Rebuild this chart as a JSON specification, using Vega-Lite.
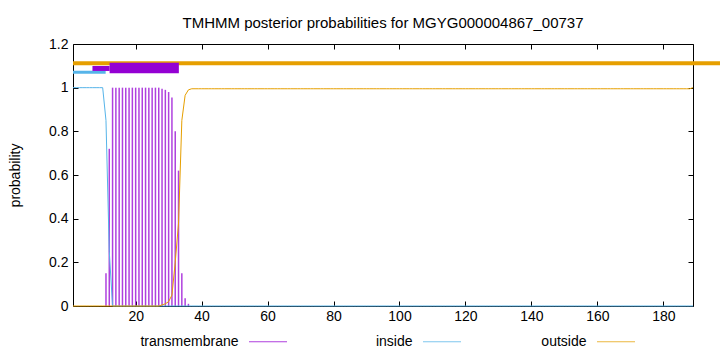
{
  "$schema": "https://vega.github.io/schema/vega-lite/v6.json",
  "width": 620,
  "height": 262,
  "autosize": "none",
  "padding": {"left": 73, "top": 44, "right": 27, "bottom": 46},
  "background": "white",
  "config": {
    "font": "Liberation Sans",
    "view": {"stroke": "black", "strokeWidth": 1},
    "axis": {
      "labelFont": "Liberation Sans",
      "labelFontSize": 14,
      "labelColor": "black",
      "tickColor": "black",
      "tickSize": -5,
      "domain": false,
      "grid": false,
      "titleFont": "Liberation Sans",
      "titleFontSize": 14,
      "titleFontWeight": "normal",
      "titleColor": "black"
    },
    "legend": {
      "orient": "none", "direction": "horizontal", "legendX": 175.5, "legendY": 278, "title": null,
      "symbolType": "stroke", "symbolSize": 1444, "symbolStrokeWidth": 1,
      "labelAlign": "right", "labelOffset": -49, "labelFontSize": 14, "labelFont": "Liberation Sans",
      "labelColor": "black", "columnPadding": 77, "gridAlign": "all", "labelLimit": 0
    }
  },
  "title": {
    "text": "TMHMM posterior probabilities for MGYG000004867_00737",
    "font": "Liberation Sans",
    "fontSize": 15,
    "fontWeight": "normal",
    "color": "black",
    "anchor": "middle",
    "baseline": "alphabetic",
    "offset": -6
  },
  "datasets": {
    "bars": [
      {"name": "outside", "start": 1, "end": 200, "level": 1.112},
      {"name": "inside", "start": 1, "end": 10.9, "level": 1.071},
      {"name": "tmthin", "start": 6.9, "end": 12.1, "level": 1.088},
      {"name": "tm", "start": 12.1, "end": 33.1, "level": 1.09}
    ],
    "curve": [
      {"x":1,"inside":1,"outside":0,"tm":0},{"x":2,"inside":1,"outside":0,"tm":0},{"x":3,"inside":1,"outside":0,"tm":0},{"x":4,"inside":1,"outside":0,"tm":0},{"x":5,"inside":1,"outside":0,"tm":0},
      {"x":6,"inside":1,"outside":0,"tm":0},{"x":7,"inside":1,"outside":0,"tm":0},{"x":8,"inside":1,"outside":0,"tm":0},{"x":9,"inside":1,"outside":0,"tm":0},{"x":10,"inside":1,"outside":0,"tm":0},
      {"x":11,"inside":0.85,"outside":0,"tm":0.15},{"x":12,"inside":0.25,"outside":0,"tm":0.72},{"x":13,"inside":0,"outside":0,"tm":1},{"x":14,"inside":0,"outside":0,"tm":1},{"x":15,"inside":0,"outside":0,"tm":1},
      {"x":16,"inside":0,"outside":0,"tm":1},{"x":17,"inside":0,"outside":0,"tm":1},{"x":18,"inside":0,"outside":0,"tm":1},{"x":19,"inside":0,"outside":0,"tm":1},{"x":20,"inside":0,"outside":0,"tm":1},
      {"x":21,"inside":0,"outside":0,"tm":1},{"x":22,"inside":0,"outside":0,"tm":1},{"x":23,"inside":0,"outside":0,"tm":1},{"x":24,"inside":0,"outside":0,"tm":1},{"x":25,"inside":0,"outside":0,"tm":1},
      {"x":26,"inside":0,"outside":0,"tm":1},{"x":27,"inside":0,"outside":0,"tm":1},{"x":28,"inside":0,"outside":0.005,"tm":0.995},{"x":29,"inside":0,"outside":0.01,"tm":0.99},{"x":30,"inside":0,"outside":0.02,"tm":0.98},
      {"x":31,"inside":0,"outside":0.05,"tm":0.955},{"x":32,"inside":0,"outside":0.2,"tm":0.8},{"x":33,"inside":0,"outside":0.38,"tm":0.62},{"x":34,"inside":0,"outside":0.85,"tm":0.15},{"x":35,"inside":0,"outside":0.965,"tm":0.035},
      {"x":36,"inside":0,"outside":0.99,"tm":0.01},{"x":37,"inside":0,"outside":0.995,"tm":0},{"x":38,"inside":0,"outside":0.995,"tm":0},{"x":39,"inside":0,"outside":0.995,"tm":0},{"x":40,"inside":0,"outside":0.995,"tm":0},
      {"x":41,"inside":0,"outside":0.995,"tm":0},{"x":42,"inside":0,"outside":0.995,"tm":0},{"x":43,"inside":0,"outside":0.995,"tm":0},{"x":44,"inside":0,"outside":0.995,"tm":0},{"x":45,"inside":0,"outside":0.995,"tm":0},
      {"x":46,"inside":0,"outside":0.995,"tm":0},{"x":47,"inside":0,"outside":0.995,"tm":0},{"x":48,"inside":0,"outside":0.995,"tm":0},{"x":49,"inside":0,"outside":0.995,"tm":0},{"x":50,"inside":0,"outside":0.995,"tm":0},
      {"x":51,"inside":0,"outside":0.995,"tm":0},{"x":52,"inside":0,"outside":0.995,"tm":0},{"x":53,"inside":0,"outside":0.995,"tm":0},{"x":54,"inside":0,"outside":0.995,"tm":0},{"x":55,"inside":0,"outside":0.995,"tm":0},
      {"x":56,"inside":0,"outside":0.995,"tm":0},{"x":57,"inside":0,"outside":0.995,"tm":0},{"x":58,"inside":0,"outside":0.995,"tm":0},{"x":59,"inside":0,"outside":0.995,"tm":0},{"x":60,"inside":0,"outside":0.995,"tm":0},
      {"x":61,"inside":0,"outside":0.995,"tm":0},{"x":62,"inside":0,"outside":0.995,"tm":0},{"x":63,"inside":0,"outside":0.995,"tm":0},{"x":64,"inside":0,"outside":0.995,"tm":0},{"x":65,"inside":0,"outside":0.995,"tm":0},
      {"x":66,"inside":0,"outside":0.995,"tm":0},{"x":67,"inside":0,"outside":0.995,"tm":0},{"x":68,"inside":0,"outside":0.995,"tm":0},{"x":69,"inside":0,"outside":0.995,"tm":0},{"x":70,"inside":0,"outside":0.995,"tm":0},
      {"x":71,"inside":0,"outside":0.995,"tm":0},{"x":72,"inside":0,"outside":0.995,"tm":0},{"x":73,"inside":0,"outside":0.995,"tm":0},{"x":74,"inside":0,"outside":0.995,"tm":0},{"x":75,"inside":0,"outside":0.995,"tm":0},
      {"x":76,"inside":0,"outside":0.995,"tm":0},{"x":77,"inside":0,"outside":0.995,"tm":0},{"x":78,"inside":0,"outside":0.995,"tm":0},{"x":79,"inside":0,"outside":0.995,"tm":0},{"x":80,"inside":0,"outside":0.995,"tm":0},
      {"x":81,"inside":0,"outside":0.995,"tm":0},{"x":82,"inside":0,"outside":0.995,"tm":0},{"x":83,"inside":0,"outside":0.995,"tm":0},{"x":84,"inside":0,"outside":0.995,"tm":0},{"x":85,"inside":0,"outside":0.995,"tm":0},
      {"x":86,"inside":0,"outside":0.995,"tm":0},{"x":87,"inside":0,"outside":0.995,"tm":0},{"x":88,"inside":0,"outside":0.995,"tm":0},{"x":89,"inside":0,"outside":0.995,"tm":0},{"x":90,"inside":0,"outside":0.995,"tm":0},
      {"x":91,"inside":0,"outside":0.995,"tm":0},{"x":92,"inside":0,"outside":0.995,"tm":0},{"x":93,"inside":0,"outside":0.995,"tm":0},{"x":94,"inside":0,"outside":0.995,"tm":0},{"x":95,"inside":0,"outside":0.995,"tm":0},
      {"x":96,"inside":0,"outside":0.995,"tm":0},{"x":97,"inside":0,"outside":0.995,"tm":0},{"x":98,"inside":0,"outside":0.995,"tm":0},{"x":99,"inside":0,"outside":0.995,"tm":0},{"x":100,"inside":0,"outside":0.995,"tm":0},
      {"x":101,"inside":0,"outside":0.995,"tm":0},{"x":102,"inside":0,"outside":0.995,"tm":0},{"x":103,"inside":0,"outside":0.995,"tm":0},{"x":104,"inside":0,"outside":0.995,"tm":0},{"x":105,"inside":0,"outside":0.995,"tm":0},
      {"x":106,"inside":0,"outside":0.995,"tm":0},{"x":107,"inside":0,"outside":0.995,"tm":0},{"x":108,"inside":0,"outside":0.995,"tm":0},{"x":109,"inside":0,"outside":0.995,"tm":0},{"x":110,"inside":0,"outside":0.995,"tm":0},
      {"x":111,"inside":0,"outside":0.995,"tm":0},{"x":112,"inside":0,"outside":0.995,"tm":0},{"x":113,"inside":0,"outside":0.995,"tm":0},{"x":114,"inside":0,"outside":0.995,"tm":0},{"x":115,"inside":0,"outside":0.995,"tm":0},
      {"x":116,"inside":0,"outside":0.995,"tm":0},{"x":117,"inside":0,"outside":0.995,"tm":0},{"x":118,"inside":0,"outside":0.995,"tm":0},{"x":119,"inside":0,"outside":0.995,"tm":0},{"x":120,"inside":0,"outside":0.995,"tm":0},
      {"x":121,"inside":0,"outside":0.995,"tm":0},{"x":122,"inside":0,"outside":0.995,"tm":0},{"x":123,"inside":0,"outside":0.995,"tm":0},{"x":124,"inside":0,"outside":0.995,"tm":0},{"x":125,"inside":0,"outside":0.995,"tm":0},
      {"x":126,"inside":0,"outside":0.995,"tm":0},{"x":127,"inside":0,"outside":0.995,"tm":0},{"x":128,"inside":0,"outside":0.995,"tm":0},{"x":129,"inside":0,"outside":0.995,"tm":0},{"x":130,"inside":0,"outside":0.995,"tm":0},
      {"x":131,"inside":0,"outside":0.995,"tm":0},{"x":132,"inside":0,"outside":0.995,"tm":0},{"x":133,"inside":0,"outside":0.995,"tm":0},{"x":134,"inside":0,"outside":0.995,"tm":0},{"x":135,"inside":0,"outside":0.995,"tm":0},
      {"x":136,"inside":0,"outside":0.995,"tm":0},{"x":137,"inside":0,"outside":0.995,"tm":0},{"x":138,"inside":0,"outside":0.995,"tm":0},{"x":139,"inside":0,"outside":0.995,"tm":0},{"x":140,"inside":0,"outside":0.995,"tm":0},
      {"x":141,"inside":0,"outside":0.995,"tm":0},{"x":142,"inside":0,"outside":0.995,"tm":0},{"x":143,"inside":0,"outside":0.995,"tm":0},{"x":144,"inside":0,"outside":0.995,"tm":0},{"x":145,"inside":0,"outside":0.995,"tm":0},
      {"x":146,"inside":0,"outside":0.995,"tm":0},{"x":147,"inside":0,"outside":0.995,"tm":0},{"x":148,"inside":0,"outside":0.995,"tm":0},{"x":149,"inside":0,"outside":0.995,"tm":0},{"x":150,"inside":0,"outside":0.995,"tm":0},
      {"x":151,"inside":0,"outside":0.995,"tm":0},{"x":152,"inside":0,"outside":0.995,"tm":0},{"x":153,"inside":0,"outside":0.995,"tm":0},{"x":154,"inside":0,"outside":0.995,"tm":0},{"x":155,"inside":0,"outside":0.995,"tm":0},
      {"x":156,"inside":0,"outside":0.995,"tm":0},{"x":157,"inside":0,"outside":0.995,"tm":0},{"x":158,"inside":0,"outside":0.995,"tm":0},{"x":159,"inside":0,"outside":0.995,"tm":0},{"x":160,"inside":0,"outside":0.995,"tm":0},
      {"x":161,"inside":0,"outside":0.995,"tm":0},{"x":162,"inside":0,"outside":0.995,"tm":0},{"x":163,"inside":0,"outside":0.995,"tm":0},{"x":164,"inside":0,"outside":0.995,"tm":0},{"x":165,"inside":0,"outside":0.995,"tm":0},
      {"x":166,"inside":0,"outside":0.995,"tm":0},{"x":167,"inside":0,"outside":0.995,"tm":0},{"x":168,"inside":0,"outside":0.995,"tm":0},{"x":169,"inside":0,"outside":0.995,"tm":0},{"x":170,"inside":0,"outside":0.995,"tm":0},
      {"x":171,"inside":0,"outside":0.995,"tm":0},{"x":172,"inside":0,"outside":0.995,"tm":0},{"x":173,"inside":0,"outside":0.995,"tm":0},{"x":174,"inside":0,"outside":0.995,"tm":0},{"x":175,"inside":0,"outside":0.995,"tm":0},
      {"x":176,"inside":0,"outside":0.995,"tm":0},{"x":177,"inside":0,"outside":0.995,"tm":0},{"x":178,"inside":0,"outside":0.995,"tm":0},{"x":179,"inside":0,"outside":0.995,"tm":0},{"x":180,"inside":0,"outside":0.995,"tm":0},
      {"x":181,"inside":0,"outside":0.995,"tm":0},{"x":182,"inside":0,"outside":0.995,"tm":0},{"x":183,"inside":0,"outside":0.995,"tm":0},{"x":184,"inside":0,"outside":0.995,"tm":0},{"x":185,"inside":0,"outside":0.995,"tm":0},
      {"x":186,"inside":0,"outside":0.995,"tm":0},{"x":187,"inside":0,"outside":0.995,"tm":0},{"x":188,"inside":0,"outside":0.995,"tm":0},{"x":189,"inside":0,"outside":1,"tm":0}
    ]
  },
  "layer": [
    {
      "data": {"name": "bars"},
      "transform": [{"filter": "datum.name === 'outside'"}],
      "mark": {"type": "rule", "color": "#e69f00", "strokeWidth": 4, "strokeCap": "butt", "clip": false},
      "encoding": {
        "x": {"field": "start", "type": "quantitative", "scale": {"domain": [1, 189], "nice": false, "zero": false},
              "axis": {"orient": "top", "values": [20, 40, 60, 80, 100, 120, 140, 160, 180], "labels": false, "title": null}},
        "x2": {"field": "end"},
        "y": {"field": "level", "type": "quantitative", "scale": {"domain": [0, 1.2], "nice": false, "zero": false},
              "axis": {"orient": "right", "values": [0, 0.2, 0.4, 0.6, 0.8, 1, 1.2], "labels": false, "title": null}}
      }
    },
    {
      "data": {"name": "bars"},
      "transform": [{"filter": "datum.name === 'inside'"}],
      "mark": {"type": "rule", "color": "#56b4e9", "strokeWidth": 3, "strokeCap": "butt"},
      "encoding": {
        "x": {"field": "start", "type": "quantitative", "scale": {"domain": [1, 189], "nice": false, "zero": false}, "axis": null},
        "x2": {"field": "end"},
        "y": {"field": "level", "type": "quantitative", "scale": {"domain": [0, 1.2], "nice": false, "zero": false}, "axis": null}
      }
    },
    {
      "data": {"name": "bars"},
      "transform": [{"filter": "datum.name === 'tmthin'"}],
      "mark": {"type": "rule", "color": "#9400d3", "strokeWidth": 5, "strokeCap": "butt"},
      "encoding": {
        "x": {"field": "start", "type": "quantitative", "scale": {"domain": [1, 189], "nice": false, "zero": false}, "axis": null},
        "x2": {"field": "end"},
        "y": {"field": "level", "type": "quantitative", "scale": {"domain": [0, 1.2], "nice": false, "zero": false}, "axis": null}
      }
    },
    {
      "data": {"name": "bars"},
      "transform": [{"filter": "datum.name === 'tm'"}],
      "mark": {"type": "rule", "color": "#9400d3", "strokeWidth": 10.5, "strokeCap": "butt"},
      "encoding": {
        "x": {"field": "start", "type": "quantitative", "scale": {"domain": [1, 189], "nice": false, "zero": false}, "axis": null},
        "x2": {"field": "end"},
        "y": {"field": "level", "type": "quantitative", "scale": {"domain": [0, 1.2], "nice": false, "zero": false}, "axis": null}
      }
    },
    {
      "data": {"name": "curve"},
      "transform": [{"filter": "datum.tm > 0"}],
      "mark": {"type": "rule", "strokeWidth": 1.5, "opacity": 0.75},
      "encoding": {
        "x": {"field": "x", "type": "quantitative", "scale": {"domain": [1, 189], "nice": false, "zero": false},
              "axis": {"orient": "bottom", "values": [20, 40, 60, 80, 100, 120, 140, 160, 180], "labelPadding": 8, "title": null}},
        "y": {"field": "tm", "type": "quantitative", "scale": {"domain": [0, 1.2], "nice": false, "zero": false},
              "axis": {"orient": "left", "values": [0, 0.2, 0.4, 0.6, 0.8, 1, 1.2], "format": "~g", "labelPadding": 10, "title": "probability", "titlePadding": 26}},
        "y2": {"datum": 0},
        "color": {"datum": "transmembrane", "type": "nominal",
                  "scale": {"domain": ["transmembrane", "inside", "outside"], "range": ["#9400d3", "#56b4e9", "#e69f00"]},
                  "legend": {"title": null}}
      }
    },
    {
      "data": {"name": "curve"},
      "transform": [{"fold": ["inside", "outside"], "as": ["series", "p"]}],
      "mark": {"type": "line", "strokeWidth": 1},
      "encoding": {
        "x": {"field": "x", "type": "quantitative", "scale": {"domain": [1, 189], "nice": false, "zero": false}, "axis": null},
        "y": {"field": "p", "type": "quantitative", "scale": {"domain": [0, 1.2], "nice": false, "zero": false}, "axis": null},
        "color": {"field": "series", "type": "nominal",
                  "scale": {"domain": ["transmembrane", "inside", "outside"], "range": ["#9400d3", "#56b4e9", "#e69f00"]},
                  "legend": {"title": null}}
      }
    }
  ],
  "resolve": {"axis": {"x": "independent", "y": "independent"}}
}
